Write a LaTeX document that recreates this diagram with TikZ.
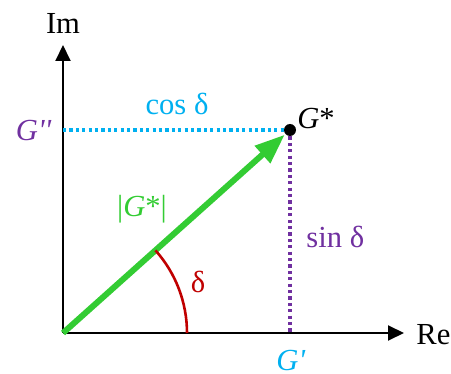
\documentclass[tikz,border=0pt]{standalone}
\usepackage{fontspec}
\setmainfont{Liberation Serif}
\usepackage{xcolor}
\definecolor{modgreen}{HTML}{33CC33}
\definecolor{stor}{HTML}{00B0F0}
\definecolor{loss}{HTML}{7030A0}
\definecolor{phase}{HTML}{C00000}
\usetikzlibrary{arrows.meta,positioning,calc}
\tikzset{
  axis/.style    = {-{Triangle[length=8pt,width=7.5pt]},line width=1pt},
  modvec/.style  = {-{Triangle[length=15pt,width=11pt]},line width=3pt,
                     draw=modgreen,shorten >=3.5pt},
  proj/.style    = {line width=1.6pt,dash pattern=on 1.6pt off 1.6pt},
  lbl/.style     = {font=\fontsize{15.3}{18}\selectfont,inner sep=1pt},
  dotpt/.style   = {circle,fill=black,inner sep=0pt,minimum size=6pt},
}

\begin{document}
\begin{tikzpicture}[x=0.5pt,y=-0.5pt]
  \useasboundingbox (0,0) rectangle (451,374);
  % points
  \coordinate (O) at (63,333);
  \coordinate (imtip) at (63,45);
  \coordinate (retip) at (404,333);
  \coordinate (Gstar) at (290,130);
  \coordinate (Gre) at (Gstar |- O);
  \coordinate (Gim) at (Gstar -| O);
  % axis
  \draw[axis] (O) -- (imtip);
  \draw[axis] (O) -- (retip);
  \node[lbl] (im) at (63,23) {Im};
  \node[lbl,anchor=west] (re) at (414,335) {Re};
  % projections
  \draw[proj,draw=stor] (Gim) -- (Gstar);
  \draw[proj,draw=loss] (Gstar) -- (Gre);
  \node[lbl,text=stor] (cosd) at (177,104) {cos δ};
  \node[lbl,text=loss,anchor=west] (sind) at (304,237) {sin δ};
  \node[lbl,text=loss,anchor=east] (Gpp) at (54,131) {\textit{G\textquotesingle\textquotesingle}};
  \node[lbl,text=stor] (Gp) at (291,361) {\textit{G\textquotesingle}};
  % modulus and phase angle
  \draw[modvec] (O) -- (Gstar);
  \node[dotpt] (Gdot) at (Gstar) {};
  \node[lbl,anchor=west] (Gst) at (295,119) {\textit{G}*};
  \node[lbl,text=modgreen] (absG) at (142,209) {|\textit{G}*|};
  \draw[draw=phase,line width=1.3pt] ($(O)+(124,0)$) arc[start angle=0,end angle=-41.8,radius=124];
  \node[lbl,text=phase] (delta) at (198,282) {δ};
\end{tikzpicture}
\end{document}
